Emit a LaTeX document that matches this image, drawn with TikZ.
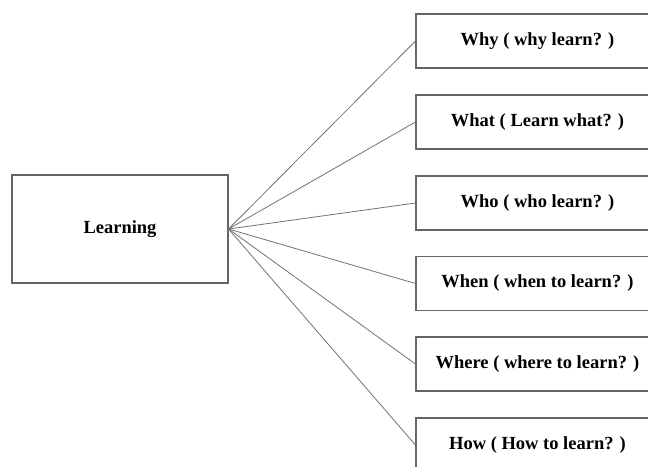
\documentclass[tikz,border=0pt]{standalone}
\usepackage{fontspec}
\setmainfont{Liberation Serif}
\begin{document}
\begin{tikzpicture}[x=1pt,y=-1pt,
  box/.style={draw=black!60,line width=1.1pt,fill=white,minimum width=243pt,minimum height=54pt,inner sep=0pt,font=\fontsize{18.5}{22}\selectfont\bfseries,text=black},
  main/.style={draw=black!60,line width=1.1pt,fill=white,minimum width=216pt,minimum height=108pt,inner sep=0pt,font=\fontsize{18.5}{22}\selectfont\bfseries,text=black},
  link/.style={draw=black!55,line width=0.8pt}]
\useasboundingbox (0,0) rectangle (648,466);
\clip (0,0) rectangle (648,466);
\fill[white] (0,0) rectangle (648,466);
\node[main] (learn) at (120,229) {Learning};
\node[box] (why) at (537.5,41) {Why ( why learn? )};
\node[box] (what) at (537.5,122) {What ( Learn what? )};
\node[box] (who) at (537.5,203) {Who ( who learn? )};
\node[box] (when) at (537.5,283.5) {When ( when to learn? )};
\node[box] (where) at (537.5,364) {Where ( where to learn? )};
\node[box] (how) at (537.5,445) {How ( How to learn? )};
\foreach \n in {why,what,who,when,where,how}
  \draw[link] (learn.east) -- (\n.west);
\end{tikzpicture}
\end{document}
